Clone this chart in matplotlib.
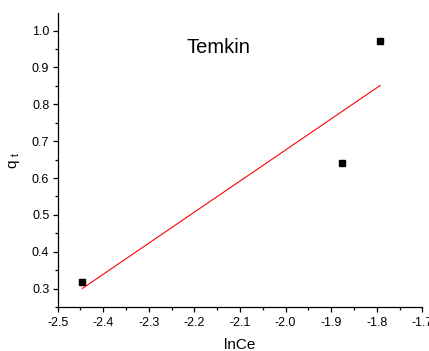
import numpy as np
import matplotlib
matplotlib.use("Agg")
import matplotlib.pyplot as plt
from matplotlib.ticker import MultipleLocator

plt.rcParams['font.family'] = ['Liberation Sans', 'DejaVu Sans']
plt.rcParams['mathtext.fontset'] = 'custom'
plt.rcParams['mathtext.rm'] = 'Liberation Sans'

# Temkin isotherm data
ln_ce = [-2.446, -1.876, -1.7925]
q_t = [0.318, 0.641, 0.973]

x_ticks = [-2.5, -2.4, -2.3, -2.2, -2.1, -2.0, -1.9, -1.8, -1.7]
y_ticks = [0.3, 0.4, 0.5, 0.6, 0.7, 0.8, 0.9, 1.0]

fig = plt.figure(figsize=(4.29, 3.51), dpi=100)
ax = fig.add_axes([0.1345, 0.1254, 0.8499, 0.8366])

ax.plot(ln_ce, q_t, linestyle='none', marker='s', markersize=5,
        color='black', zorder=3)

# linear regression of q_t against ln Ce
slope, intercept = np.polyfit(ln_ce, q_t, 1)
xf = np.array([min(ln_ce), max(ln_ce)])
ax.plot(xf, slope * xf + intercept, color='red', linewidth=0.8, zorder=2)

ax.set_xlim(-2.5, -1.7)
ax.set_ylim(0.25, 1.047)
ax.set_xticks(x_ticks)
ax.set_xticklabels([f"{v:.1f}" for v in x_ticks])
ax.set_yticks(y_ticks)
ax.set_yticklabels([f"{v:.1f}" for v in y_ticks])
ax.xaxis.set_minor_locator(MultipleLocator(0.05))
ax.yaxis.set_minor_locator(MultipleLocator(0.05))

for side in ('top', 'right'):
    ax.spines[side].set_visible(False)
for side in ('left', 'bottom'):
    ax.spines[side].set_linewidth(0.9)

ax.tick_params(which='major', direction='out', length=3.5, width=0.9,
               labelsize=9, pad=2.5)
ax.tick_params(axis='x', which='major', pad=3.5)
ax.tick_params(which='minor', direction='out', length=2, width=0.9)

ax.set_xlabel('lnCe', fontsize=11, labelpad=6.5)
ax.set_ylabel(r'q $_{\mathregular{t}}$', fontsize=11, labelpad=7)

ax.text(0.44, 0.882, 'Temkin', transform=ax.transAxes, fontsize=14.5,
        ha='center', va='center')

fig.savefig('out.png', dpi=100)
